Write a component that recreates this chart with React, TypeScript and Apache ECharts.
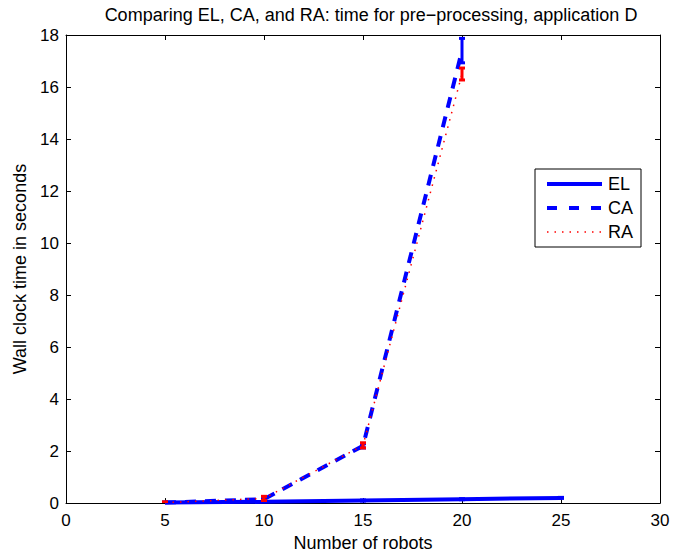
import React, { useEffect, useRef } from "react";
import * as echarts from "echarts";

const robots = [5, 10, 15, 20, 25];
const elMean = [0.02, 0.05, 0.1, 0.15, 0.2];
const elErr = [0.01, 0.01, 0.02, 0.02, 0.02];
const caRobots = [5, 10, 15, 20];
const caMean = [0.02, 0.15, 2.2, 17.4];
const caErr = [0.02, 0.05, 0.08, 0.47];
const raMean = [0.02, 0.18, 2.22, 16.5];
const raErr = [0.03, 0.08, 0.1, 0.23];
const xTicks = [0, 5, 10, 15, 20, 25, 30];
const yTicks = [0, 2, 4, 6, 8, 10, 12, 14, 16, 18];

const FONT = "'Liberation Sans', Arial, Helvetica, sans-serif";

function errData(xs: number[], m: number[], e: number[]) {
  return xs.map((x, i) => [x, m[i] - e[i], m[i] + e[i]]);
}

function errSeries(name: string, data: number[][], color: string, z: number) {
  return {
    type: "custom",
    name,
    data,
    z,
    clip: true,
    renderItem: (params: any, api: any) => {
      const x = api.value(0);
      const lo = api.coord([x, api.value(1)]);
      const hi = api.coord([x, api.value(2)]);
      const hw = 3;
      const style = { stroke: color, lineWidth: 3 };
      return {
        type: "group",
        children: [
          { type: "line", shape: { x1: lo[0], y1: lo[1], x2: hi[0], y2: hi[1] }, style },
          { type: "line", shape: { x1: lo[0] - hw, y1: lo[1], x2: lo[0] + hw, y2: lo[1] }, style },
          { type: "line", shape: { x1: hi[0] - hw, y1: hi[1], x2: hi[0] + hw, y2: hi[1] }, style },
        ],
      };
    },
  };
}

export default function App() {
  const ref = useRef<HTMLDivElement>(null);
  useEffect(() => {
    if (!ref.current) return;
    const chart = echarts.init(ref.current, undefined, { renderer: "svg" });
    const axisCommon = {
      axisLine: { show: true, onZero: false, lineStyle: { color: "#000", width: 1 } },
      axisTick: { show: true, inside: true, length: 5, lineStyle: { color: "#000" } },
      splitLine: { show: false },
    };
    const tickLabel = { color: "#000", fontSize: 17, fontFamily: FONT };
    chart.setOption({
      animation: false,
      backgroundColor: "#fff",
      textStyle: { fontFamily: FONT },
      title: {
        text: "Comparing EL, CA, and RA: time for pre\u2212processing, application D",
        left: 366,
        textAlign: "center",
        top: 1,
        textStyle: { fontFamily: FONT, fontSize: 18, fontWeight: "normal", color: "#000" },
      },
      legend: {
        data: [
          { name: "EL", lineStyle: { width: 4, color: "#0000ff", type: "solid" } },
          { name: "CA", lineStyle: { width: 4, color: "#0000ff", type: [10, 12] } },
          { name: "RA", lineStyle: { width: 1.5, color: "#ff0000", type: [1.5, 6] } },
        ],
        orient: "vertical",
        left: 535,
        top: 169,
        padding: [6, 8, 6, 10],
        itemGap: 6,
        itemWidth: 55,
        itemHeight: 14,
        borderColor: "#000",
        borderWidth: 1,
        backgroundColor: "#fff",
        itemStyle: { opacity: 0 },
        textStyle: { fontFamily: FONT, fontSize: 18, color: "#000", padding: [0, 0, 0, 1] },
      },
      grid: { left: 66, right: 15, top: 35, bottom: 52, containLabel: false },
      xAxis: [
        {
          type: "value",
          min: 0,
          max: 30,
          interval: 5,
          position: "bottom",
          name: "Number of robots",
          nameLocation: "middle",
          nameGap: 27,
          nameTextStyle: { fontFamily: FONT, fontSize: 18, color: "#000" },
          axisLabel: { ...tickLabel, margin: 9 },
          ...axisCommon,
        },
        {
          type: "value",
          min: 0,
          max: 30,
          interval: 5,
          position: "top",
          axisLabel: { show: false },
          ...axisCommon,
        },
      ],
      yAxis: [
        {
          type: "value",
          min: 0,
          max: 18,
          interval: 2,
          position: "left",
          name: "Wall clock time in seconds",
          nameLocation: "middle",
          nameGap: 37,
          nameTextStyle: { fontFamily: FONT, fontSize: 18, color: "#000" },
          axisLabel: { ...tickLabel, margin: 7 },
          ...axisCommon,
        },
        {
          type: "value",
          min: 0,
          max: 18,
          interval: 2,
          position: "right",
          axisLabel: { show: false },
          ...axisCommon,
        },
      ],
      series: [
        {
          name: "EL",
          type: "line",
          data: robots.map((x, i) => [x, elMean[i]]),
          symbol: "none",
          lineStyle: { color: "#0000ff", width: 4, type: "solid" },
          itemStyle: { color: "#0000ff" },
          z: 2,
        },
        {
          name: "CA",
          type: "line",
          data: caRobots.map((x, i) => [x, caMean[i]]),
          symbol: "none",
          lineStyle: { color: "#0000ff", width: 4, type: [11, 9] },
          itemStyle: { color: "#0000ff" },
          z: 3,
        },
        errSeries("EL err", errData(robots, elMean, elErr), "#0000ff", 3),
        errSeries("CA err", errData(caRobots, caMean, caErr), "#0000ff", 4),
        errSeries("RA err", errData(caRobots, raMean, raErr), "#ff0000", 5),
        {
          name: "RA",
          type: "line",
          data: caRobots.map((x, i) => [x, raMean[i]]),
          symbol: "none",
          lineStyle: { color: "#ff0000", width: 1.5, type: [1.5, 6] },
          itemStyle: { color: "#ff0000" },
          z: 6,
        },
      ],
    });
    return () => chart.dispose();
  }, []);
  return (
    <div
      ref={ref}
      style={{ position: "fixed", left: 0, top: 0, width: 675, height: 557, background: "#fff" }}
    />
  );
}
